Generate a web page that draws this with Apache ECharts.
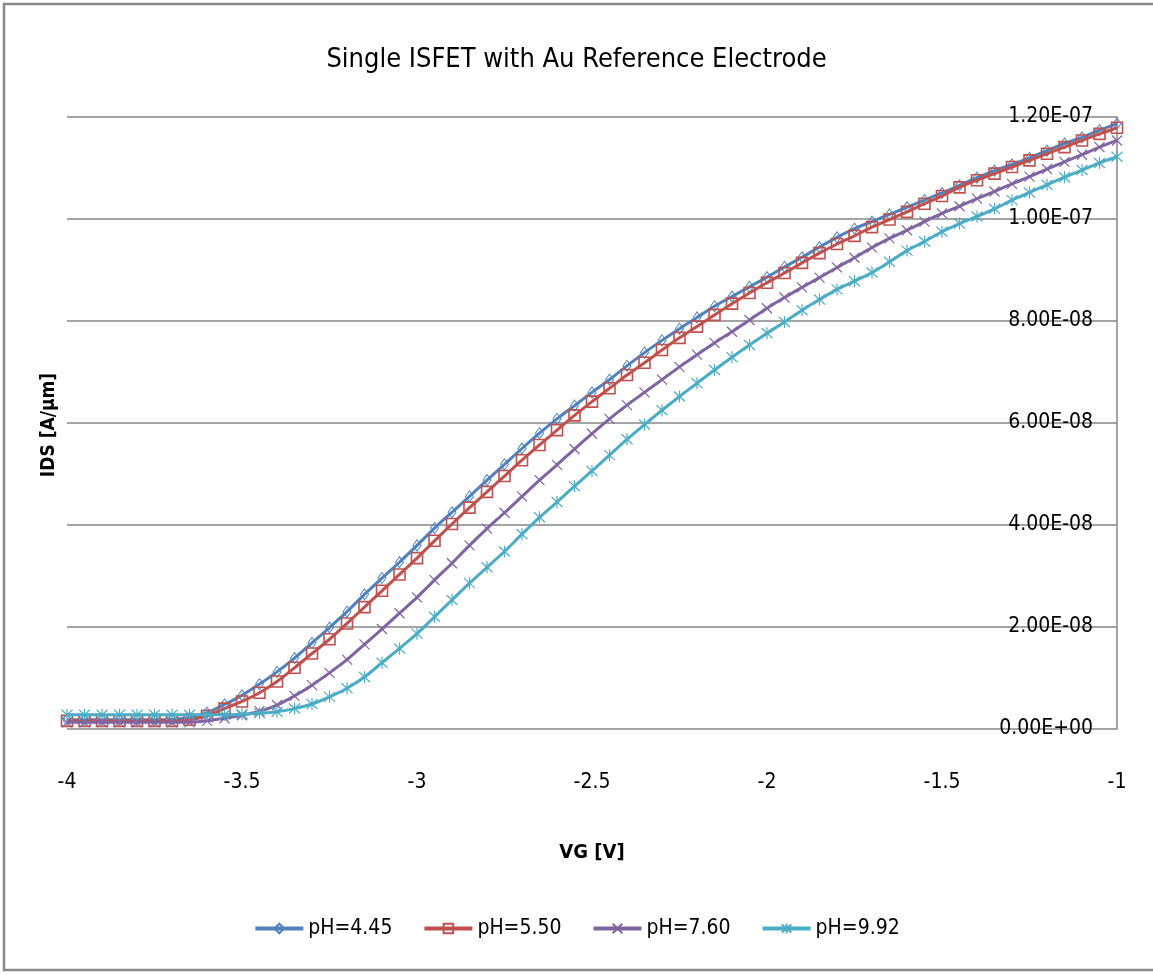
<!DOCTYPE html>
<html>
<head>
<meta charset="utf-8">
<title>Single ISFET with Au Reference Electrode</title>
<script src="https://cdn.jsdelivr.net/npm/echarts@6/dist/echarts.min.js"></script>
<style>
  html, body { margin: 0; padding: 0; background: #fff; }
  #chart { width: 1153px; height: 974px; }
</style>
</head>
<body>
<div id="chart"></div>
<script>
// Gate voltage sweep, V
const vg = [
  -4.00, -3.95, -3.90, -3.85, -3.80, -3.75, -3.70, -3.65, -3.60, -3.55,
  -3.50, -3.45, -3.40, -3.35, -3.30, -3.25, -3.20, -3.15, -3.10, -3.05,
  -3.00, -2.95, -2.90, -2.85, -2.80, -2.75, -2.70, -2.65, -2.60, -2.55,
  -2.50, -2.45, -2.40, -2.35, -2.30, -2.25, -2.20, -2.15, -2.10, -2.05,
  -2.00, -1.95, -1.90, -1.85, -1.80, -1.75, -1.70, -1.65, -1.60, -1.55,
  -1.50, -1.45, -1.40, -1.35, -1.30, -1.25, -1.20, -1.15, -1.10, -1.05,
  -1.00
];

// Drain current IDS, in units of 1e-8 A/um
const idsPh445 = [
  0.18, 0.18, 0.18, 0.18, 0.18, 0.18, 0.19, 0.22, 0.32, 0.48,
  0.66, 0.88, 1.12, 1.39, 1.69, 1.99, 2.30, 2.64, 2.96, 3.27,
  3.60, 3.94, 4.25, 4.56, 4.88, 5.19, 5.50, 5.80, 6.08, 6.34,
  6.60, 6.85, 7.12, 7.38, 7.62, 7.85, 8.07, 8.29, 8.48, 8.67,
  8.86, 9.06, 9.25, 9.45, 9.64, 9.81, 9.95, 10.09, 10.23, 10.37,
  10.51, 10.66, 10.81, 10.95, 11.07, 11.20, 11.34, 11.48, 11.60, 11.74,
  11.87
];
const idsPh550 = [
  0.16, 0.16, 0.16, 0.16, 0.16, 0.16, 0.16, 0.18, 0.26, 0.40,
  0.54, 0.71, 0.93, 1.20, 1.48, 1.76, 2.07, 2.39, 2.71, 3.03,
  3.35, 3.69, 4.02, 4.34, 4.65, 4.96, 5.27, 5.57, 5.86, 6.15,
  6.42, 6.68, 6.94, 7.18, 7.43, 7.67, 7.89, 8.12, 8.34, 8.55,
  8.75, 8.94, 9.14, 9.33, 9.51, 9.67, 9.84, 9.99, 10.14, 10.30,
  10.45, 10.62, 10.76, 10.89, 11.02, 11.15, 11.28, 11.41, 11.54, 11.67,
  11.79
];
const idsPh760 = [
  0.13, 0.13, 0.13, 0.13, 0.13, 0.13, 0.13, 0.13, 0.16, 0.21,
  0.27, 0.35, 0.47, 0.65, 0.86, 1.10, 1.36, 1.66, 1.96, 2.27,
  2.58, 2.92, 3.25, 3.60, 3.93, 4.24, 4.56, 4.88, 5.18, 5.49,
  5.79, 6.08, 6.35, 6.60, 6.85, 7.10, 7.34, 7.57, 7.79, 8.02,
  8.25, 8.46, 8.66, 8.85, 9.05, 9.24, 9.44, 9.62, 9.78, 9.95,
  10.11, 10.25, 10.40, 10.54, 10.69, 10.83, 10.98, 11.12, 11.26, 11.41,
  11.54
];
const idsPh992 = [
  0.28, 0.28, 0.28, 0.28, 0.28, 0.28, 0.28, 0.28, 0.28, 0.28,
  0.29, 0.31, 0.34, 0.40, 0.49, 0.63, 0.80, 1.02, 1.30, 1.58,
  1.87, 2.20, 2.53, 2.86, 3.17, 3.48, 3.82, 4.15, 4.45, 4.76,
  5.06, 5.37, 5.68, 5.97, 6.25, 6.52, 6.78, 7.04, 7.29, 7.53,
  7.76, 7.98, 8.21, 8.42, 8.62, 8.78, 8.95, 9.16, 9.38, 9.56,
  9.75, 9.91, 10.05, 10.20, 10.37, 10.52, 10.67, 10.82, 10.96, 11.10,
  11.22
];

const seriesNames = ['pH=4.45', 'pH=5.50', 'pH=7.60', 'pH=9.92'];
const seriesColors = ['#4F81BD', '#C0504D', '#8064A2', '#4BACC6'];

const FONT = "'Liberation Sans Narrow', 'DejaVu Sans Condensed', 'Liberation Sans', sans-serif";

// Excel-style scientific notation: 1.20E-07
function sci(v) {
  if (v === 0) return '0.00E+00';
  const s = (v * 1e-8).toExponential(2);
  const [m, e] = s.split('e');
  const n = parseInt(e, 10);
  return m + 'E' + (n < 0 ? '-' : '+') + String(Math.abs(n)).padStart(2, '0');
}

// Hollow marker outlines: diamond, square, cross, asterisk
const markers = [
  { symbol: 'path://M5,0L10,6L5,12L0,6Z', size: [8, 11], width: 1 },
  { symbol: 'path://M0,0L10,0L10,10L0,10Z', size: [11, 11], width: 1.6 },
  { symbol: 'path://M0,0L10,10M10,0L0,10', size: [10, 10], width: 1.2 },
  { symbol: 'path://M0,0L10,10M10,0L0,10M5,-1L5,11', size: [11, 12], width: 1.2 }
];

const allValues = [idsPh445, idsPh550, idsPh760, idsPh992];

const series = allValues.map((vals, k) => ({
  name: seriesNames[k],
  type: 'line',
  smooth: 0.3,
  data: vals.map((v, i) => [vg[i], v]),
  symbol: markers[k].symbol,
  symbolSize: markers[k].size,
  showAllSymbol: true,
  color: seriesColors[k],
  lineStyle: { color: seriesColors[k], width: 3 },
  itemStyle: {
    color: 'rgba(255,255,255,0)',
    borderColor: seriesColors[k],
    borderWidth: markers[k].width
  },
  emphasis: { disabled: true },
  z: 2 + k
}));

const chart = echarts.init(document.getElementById('chart'));
chart.setOption({
  backgroundColor: '#fff',
  animation: false,
  textStyle: { fontFamily: FONT },
  title: {
    text: 'Single ISFET with Au Reference Electrode',
    left: 'center',
    top: 41,
    textStyle: { fontFamily: FONT, fontSize: 27, fontWeight: 'normal', color: '#000' }
  },
  grid: { left: 67, right: 36, top: 117, bottom: 245, containLabel: false },
  legend: {
    bottom: 30,
    left: 'center',
    itemWidth: 48,
    itemHeight: 12,
    itemGap: 30,
    lineStyle: { width: 4 },
    textStyle: { fontFamily: FONT, fontSize: 21, color: '#000' },
    data: seriesNames
  },
  xAxis: {
    type: 'value',
    min: -4,
    max: -1,
    interval: 0.5,
    name: 'VG [V]',
    nameLocation: 'middle',
    nameGap: 114,
    nameTextStyle: { fontFamily: FONT, fontSize: 20, fontWeight: 'bold', color: '#000' },
    axisLine: { show: false },
    axisTick: { show: false },
    splitLine: { show: false },
    axisLabel: { fontFamily: FONT, fontSize: 21, color: '#000', margin: 43 }
  },
  yAxis: {
    type: 'value',
    position: 'right',
    min: 0,
    max: 12,
    interval: 2,
    axisLine: { show: true, onZero: false, lineStyle: { color: '#868686', width: 1.5 } },
    axisTick: { show: false },
    splitLine: { show: true, lineStyle: { color: '#868686', width: 1.5 } },
    axisLabel: {
      inside: true,
      margin: 24,
      fontFamily: FONT,
      fontSize: 21,
      color: '#000',
      formatter: sci
    }
  },
  graphic: [
    {
      type: 'rect',
      shape: { x: 4, y: 4, width: 1160, height: 966 },
      style: { fill: 'none', stroke: '#888', lineWidth: 2.5 },
      silent: true
    },
    {
      type: 'text',
      x: 49,
      y: 425,
      rotation: Math.PI / 2,
      style: {
        text: 'IDS [A/\u00b5m]',
        fontFamily: FONT,
        fontSize: 19,
        fontWeight: 'bold',
        fill: '#000',
        align: 'center',
        verticalAlign: 'middle'
      }
    }
  ],
  series: series
});
</script>
</body>
</html>
